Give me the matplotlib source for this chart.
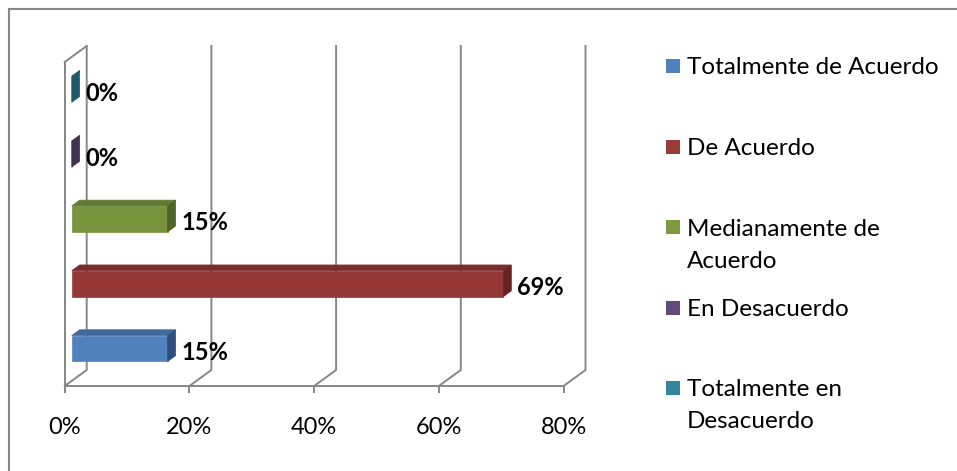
import numpy as np
import matplotlib.pyplot as plt
from matplotlib.patches import Polygon, Rectangle
from matplotlib.lines import Line2D

plt.rcParams['font.family'] = ['Lato', 'DejaVu Sans']

categorias = ['Totalmente de Acuerdo', 'De Acuerdo', 'Medianamente de\nAcuerdo',
              'En Desacuerdo', 'Totalmente en\nDesacuerdo']
porcentajes = [15.38, 69.23, 15.38, 0.0, 0.0]
etiquetas = ['15%', '69%', '15%', '0%', '0%']
ticks = [0, 20, 40, 60, 80]
tick_labels = ['0%', '20%', '40%', '60%', '80%']

c_frente = ['#4F81BD', '#953735', '#77933C', '#604A7B', '#31859C']
c_arriba = ['#41699B', '#7B2C2B', '#627A31', '#4E3C65', '#276B7E']
c_lado = ['#2F4F7A', '#622322', '#4F6228', '#3F3151', '#215968']
c_leyenda = ['#4F81BD', '#9B3B38', '#7F9A3E', '#604A7B', '#31859C']
gris = '#878787'

W, H = 957, 471
fig = plt.figure(figsize=(W / 100, H / 100), dpi=100)
ax = fig.add_axes([64.7 / W, 85 / H, 498.8 / W, 324 / H])
ax.set_xlim(0, 80)
ax.set_ylim(0, 5)

# profundidad 3D en unidades de datos (22 px a la derecha, 16 px hacia arriba)
px_x = 498.8 / 80
px_y = 324 / 5
dxd = 22 / px_x
dyd = 16 / px_y
d0, d1 = 0.32, 0.68
alto = 0.4


def proj(x, y, d):
    return (x + d * dxd, y + d * dyd)


# paredes y piso
for t in ticks:
    xs, ys = zip(proj(t, 0, 0), proj(t, 0, 1), proj(t, 5, 1))
    ax.plot(xs, ys, color=gris, lw=1.4, clip_on=False, zorder=1)
xs, ys = zip(proj(0, 5, 0), proj(0, 5, 1))
ax.plot(xs, ys, color=gris, lw=1.4, clip_on=False, zorder=1)

# barras
for i, v in enumerate(porcentajes):
    y0 = i + 0.5 - alto / 2
    y1 = i + 0.5 + alto / 2
    frente = [proj(0, y0, d0), proj(v, y0, d0), proj(v, y1, d0), proj(0, y1, d0)]
    arriba = [proj(0, y1, d0), proj(v, y1, d0), proj(v, y1, d1), proj(0, y1, d1)]
    lado = [proj(v, y0, d0), proj(v, y0, d1), proj(v, y1, d1), proj(v, y1, d0)]
    for pts, col in [(frente, c_frente[i]), (arriba, c_arriba[i]), (lado, c_lado[i])]:
        ax.add_patch(Polygon(pts, closed=True, facecolor=col, edgecolor=col,
                             lw=0.5, clip_on=False, zorder=3))
    ax.annotate(etiquetas[i], xy=proj(v, i + 0.5, d1), xytext=(4, -7),
                textcoords='offset points', ha='left', va='center',
                fontsize=17, fontweight='bold', color='black', zorder=4)

for s in ['top', 'right']:
    ax.spines[s].set_visible(False)
for s in ['left', 'bottom']:
    ax.spines[s].set_color(gris)
    ax.spines[s].set_linewidth(1.4)
ax.set_yticks([])
ax.set_xticks(ticks)
ax.set_xticklabels(tick_labels, fontsize=17)
ax.tick_params(axis='x', length=5, width=1.4, color=gris, pad=17.5)
ax.patch.set_visible(False)

# leyenda
for i, lab in enumerate(categorias):
    yc = 66 + 80.5 * i
    fig.patches.append(Rectangle((666 / W, 1 - (yc + 7) / H), 14 / W, 14 / H,
                                 transform=fig.transFigure, facecolor=c_leyenda[i],
                                 edgecolor='none'))
    for j, linea in enumerate(lab.split('\n')):
        fig.text(687 / W, 1 - (yc + 8.5 + 32 * j) / H, linea, fontsize=17.5,
                 va='baseline', ha='left')

# borde del grafico
fig.lines.append(Line2D([9 / W, 1], [1 - 9 / H, 1 - 9 / H], transform=fig.transFigure,
                        color=gris, lw=1.5))
fig.lines.append(Line2D([9 / W, 9 / W], [1 - 9 / H, 0], transform=fig.transFigure,
                        color=gris, lw=1.5))

fig.savefig('out.png', dpi=100)
